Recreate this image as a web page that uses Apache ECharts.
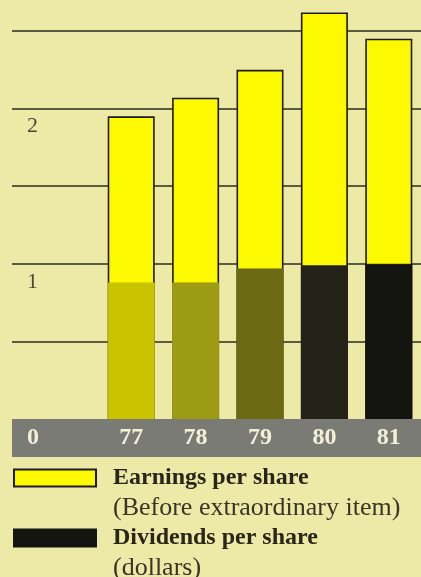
<!DOCTYPE html>
<html>
<head>
<meta charset="utf-8">
<script src="https://cdn.jsdelivr.net/npm/echarts@6/dist/echarts.min.js"></script>
<style>
html,body{margin:0;padding:0;background:#ede9a6;}
#c{width:421px;height:577px;}
</style>
</head>
<body>
<div id="c"></div>
<script>
// ---- data ----
var years = ['77', '78', '79', '80', '81'];
var earnings = [1.95, 2.07, 2.25, 2.62, 2.45];
var dividends = [0.88, 0.88, 0.97, 0.99, 1.00];
var dividendColors = ['#c9c300', '#9d9b14', '#6b6a12', '#24231a', '#141410'];
var yTickLabels = {0: '0', 1: '1', 2: '2'};
var seriesNames = ['Earnings per share', 'Dividends per share'];
var seriesNotes = ['(Before extraordinary item)', '(dollars)'];

var serif = "'Liberation Serif', 'DejaVu Serif', serif";
var chart = echarts.init(document.getElementById('c'));

var divData = dividends.map(function (v, i) {
  return { value: v, itemStyle: { color: dividendColors[i], borderColor: dividendColors[i] } };
});

chart.setOption({
  backgroundColor: '#ede9a6',
  animation: false,
  grid: [
    { left: 99, right: 0, top: 31, bottom: 158 },
    { left: 12, right: 0, top: 31, bottom: 158 },
    { left: 12, right: 0, top: 419, height: 38, show: true, backgroundColor: '#7b7b75', borderWidth: 0 }
  ],
  xAxis: [
    {
      gridIndex: 0, type: 'category', data: years, z: 5,
      axisLine: { show: false }, axisTick: { show: false },
      axisLabel: {
        margin: 19, verticalAlign: 'middle', color: '#f4f0d8',
        fontFamily: serif, fontWeight: 'bold', fontSize: 24
      }
    },
    { gridIndex: 1, type: 'category', data: [''], show: false },
    { gridIndex: 2, type: 'category', data: [''], show: false }
  ],
  yAxis: [
    { gridIndex: 0, type: 'value', min: 0, max: 2.5, show: false },
    {
      gridIndex: 1, type: 'value', min: 0, max: 2.5, interval: 0.5, z: 1,
      axisLine: { show: false }, axisTick: { show: false },
      splitLine: { show: true, showMinLine: false, lineStyle: { color: '#2b2a1f', width: 1.6 } },
      axisLabel: {
        inside: true, margin: 15, verticalAlign: 'top',
        formatter: function (v) {
          var t = yTickLabels[v];
          if (t === undefined) return '';
          return v === 0 ? '{w|' + t + '}' : '{d|' + t + '}';
        },
        rich: {
          w: { color: '#f4f0d8', fontFamily: serif, fontWeight: 'bold', fontSize: 24, padding: [7, 0, 0, 0] },
          d: { color: '#4a4638', fontFamily: serif, fontSize: 22, padding: [7, 0, 0, 0] }
        }
      }
    },
    { gridIndex: 2, type: 'value', show: false }
  ],
  legend: {
    orient: 'vertical', left: 13, top: 466, height: 400, padding: 0,
    itemWidth: 82, itemHeight: 17, itemGap: 5,
    icon: 'rect', selectedMode: false,
    data: seriesNames,
    formatter: function (name) {
      var i = seriesNames.indexOf(name);
      return '{n|' + name + '}\n{s|' + seriesNotes[i] + '}';
    },
    textStyle: {
      padding: [30, 0, 0, 12],
      rich: {
        n: { fontFamily: serif, fontWeight: 'bold', fontSize: 24, lineHeight: 30, color: '#2a2519' },
        s: { fontFamily: serif, fontSize: 26, lineHeight: 30, color: '#3a3426' }
      }
    }
  },
  series: [
    {
      name: seriesNames[0], type: 'bar', xAxisIndex: 0, yAxisIndex: 0, z: 3,
      data: earnings, barWidth: 47, barGap: '-100%', clip: false,
      itemStyle: { color: '#fdf900', borderColor: '#1e1c12', borderWidth: 1.6 }
    },
    {
      name: seriesNames[1], type: 'bar', xAxisIndex: 0, yAxisIndex: 0, z: 3,
      data: divData, barWidth: 47, barGap: '-100%', clip: false,
      itemStyle: { color: '#141410', borderColor: '#141410', borderWidth: 1 }
    }
  ]
});
</script>
</body>
</html>
